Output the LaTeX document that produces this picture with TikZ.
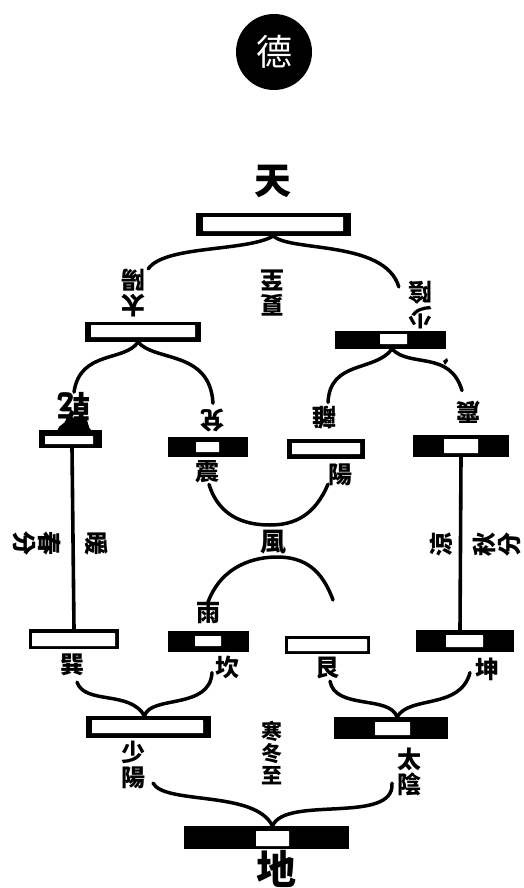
\documentclass[tikz,border=0pt]{standalone}
\usepackage{fontspec}
\newfontfamily\cjk{Noto Sans CJK TC}
\newcommand{\guabar}[7]{%
	\node[barbox, minimum width=#3pt, minimum height=#4pt] (#1) at #2 {};
	\node[barhole, minimum width=#6pt, minimum height=#7pt] (#1hole) at #5 {};
}
\begin{document}
\begin{tikzpicture}[x=1pt, y=-1pt, line cap=round, line join=round,
	barbox/.style={fill=black, inner sep=0pt, outer sep=0pt},
	barhole/.style={fill=white, inner sep=0pt, outer sep=0pt, rounded corners=0.5pt},
	lab/.style={inner sep=0pt, align=center, font=\cjk\bfseries\fontsize{24}{25}\selectfont},
	biglab/.style={inner sep=0pt, font=\cjk\bfseries\fontsize{37}{37}\selectfont},
	upside/.style={lab, rotate=180},
	branch/.style={line width=3.5pt},
	stem/.style={line width=3.6pt}]
	\useasboundingbox (0,0) rectangle (523,888);
	\fill[white] (0,0) rectangle (523,888);
	% the circle on top
	\node[circle, fill=black, minimum size=76pt, inner sep=0pt, text=white, font=\cjk\fontsize{36}{36}\selectfont] (de) at (274,52) {德};
	% bars
	\guabar{tian}{(273.5,224.5)}{155}{23}{(273,224)}{140}{14}
	\guabar{taiyang}{(143,332)}{116}{20}{(143,331)}{104}{12}
	\guabar{shaoyin}{(390.5,340)}{111}{18}{(393.5,339)}{27}{10}
	\guabar{qian}{(70.5,439)}{63}{18}{(69,440)}{48}{8}
	\guabar{dui}{(208,447)}{80}{20}{(207.5,447)}{23}{10}
	\guabar{li}{(326,449)}{78}{20}{(326,448.5)}{68}{11}
	\guabar{zhen}{(461,446)}{96}{22}{(461,446)}{34}{14}
	\guabar{xun}{(74,639)}{90}{20}{(73.5,639.5)}{83}{13}
	\guabar{kan}{(208.5,641.5)}{81}{21}{(208,641)}{26}{10}
	\guabar{gen}{(327.5,645)}{85}{18}{(327.5,645)}{79}{12}
	\guabar{kun}{(465,641)}{98}{22}{(464.5,641)}{37}{12}
	\guabar{shaoyang}{(148.5,727)}{125}{22}{(147.5,726.5)}{111}{13}
	\guabar{taiyin}{(391,728)}{114}{22}{(392.5,728.5)}{35}{13}
	\guabar{di}{(266.5,837.5)}{165}{23}{(272.5,838.5)}{33}{15}
	% labels
	\node[biglab] (ltian) at (273,181) {天};
	\node[biglab, font=\cjk\bfseries\fontsize{40}{40}\selectfont] (ldi) at (276,869) {地};
	\node[upside] (ltaiyang) at (133,293) {太\\陽};
	\node[upside] (lxiazhi) at (272,293) {夏\\至};
	\node[upside] (lshaoyin) at (420,305) {少\\陰};
	\node[upside, font=\cjk\bfseries\fontsize{33}{33}\selectfont] (lqian) at (74,408) {乾};
	\node[upside] (ldui) at (212,420) {兌};
	\node[upside] (lli) at (324,418) {離};
	\node[upside] (lzhen) at (468,412) {震};
	\node[lab] (lzhenb) at (207,472) {震};
	\node[lab] (lyang) at (340,475) {陽};
	\node[lab, font=\cjk\bfseries\fontsize{26}{26}\selectfont] (lfeng) at (273,542) {風};
	\node[lab] (lyu) at (208,613) {雨};
	\node[lab, rotate=-90] (lchun) at (37,543) {春\\分};
	\node[lab, rotate=-90] (lnuan) at (97,543) {暖};
	\node[lab, rotate=90] (lliang) at (441,544) {涼};
	\node[lab, rotate=90] (lqiu) at (497,544) {秋\\分};
	\node[lab] (lxun) at (72,665) {巽};
	\node[lab] (lkan) at (227,667) {坎};
	\node[lab] (lgen) at (327,668) {艮};
	\node[lab] (lkun) at (487,669) {坤};
	\node[lab] (lshaoyang) at (133,765) {少\\陽};
	\node[lab, font=\cjk\bfseries\fontsize{21}{22}\selectfont] (ldongzhi) at (272,753) {寒\\冬\\至};
	\node[lab] (ltaiyin) at (409,772) {太\\陰};
	% free ends and the ink marks
	\coordinate (rainend) at (333,600);
	\fill (443,361) -- (447,358) -- (448,361) -- (445,365) -- cycle;
	\fill[rounded corners=2pt] (56,433) -- (60,425) -- (64,424) -- (68,415) -- (78,420) -- (86,417) -- (90,430) -- (96,433) -- cycle;
	% branches, top half
	\draw[branch] (tian.south) .. controls (245,252) and (165,245) .. ([xshift=3pt]ltaiyang.south west);
	\draw[branch] (tian.south) .. controls (290,252) and (385,240) .. ([xshift=-9pt,yshift=-6pt]lshaoyin.south east);
	\draw[branch] (taiyang.south) ++(-5,0) .. controls (125,362) and (80,350) .. (lqian.south);
	\draw[branch] (taiyang.south) ++(-5,0) .. controls (155,362) and (210,350) .. ([xshift=1pt,yshift=5pt]ldui.south);
	\draw[branch] (shaoyin.south) ++(1.5,0) .. controls (375,372) and (330,360) .. ([xshift=4pt,yshift=4pt]lli.south);
	\draw[branch] (shaoyin.south) ++(1.5,0) .. controls (410,368) and (450,350) .. ([xshift=-6pt,yshift=10pt]lzhen.south);
	% the two stems
	\draw[stem] (qian.south) ++(1.5,0) -- (xun.north);
	\draw[stem] (zhen.south) -- ([xshift=-5pt]kun.north);
	% wind and rain
	\draw[branch] (lzhenb.south) ++(2,1) .. controls (220,520) and (250,525) .. (270,525) .. controls (295,525) and (315,515) .. ([xshift=-12pt,yshift=2pt]lyang.south);
	\draw[branch] (lyu.north) .. controls (222,565) and (255,557) .. (277,557) .. controls (305,557) and (322,570) .. (rainend);
	% branches, bottom half
	\draw[branch] ([xshift=5pt,yshift=-6pt]lxun.south) .. controls (85,705) and (130,690) .. ([xshift=-4pt]shaoyang.north);
	\draw[branch] ([xshift=-15pt,yshift=6pt]lkan.south) .. controls (210,710) and (150,695) .. ([xshift=-4pt]shaoyang.north);
	\draw[branch] ([xshift=3pt,yshift=-2pt]lgen.south) .. controls (335,710) and (390,695) .. ([xshift=6pt]taiyin.north);
	\draw[branch] ([xshift=-17pt,yshift=8pt]lkun.south) .. controls (460,710) and (410,695) .. ([xshift=6pt]taiyin.north);
	\draw[branch] ([xshift=20pt,yshift=6pt]lshaoyang.south) .. controls (165,805) and (255,790) .. ([xshift=6pt]di.north);
	\draw[branch] ([xshift=-17pt,yshift=13pt]ltaiyin.south) .. controls (395,825) and (285,795) .. ([xshift=6pt]di.north);
\end{tikzpicture}
\end{document}
